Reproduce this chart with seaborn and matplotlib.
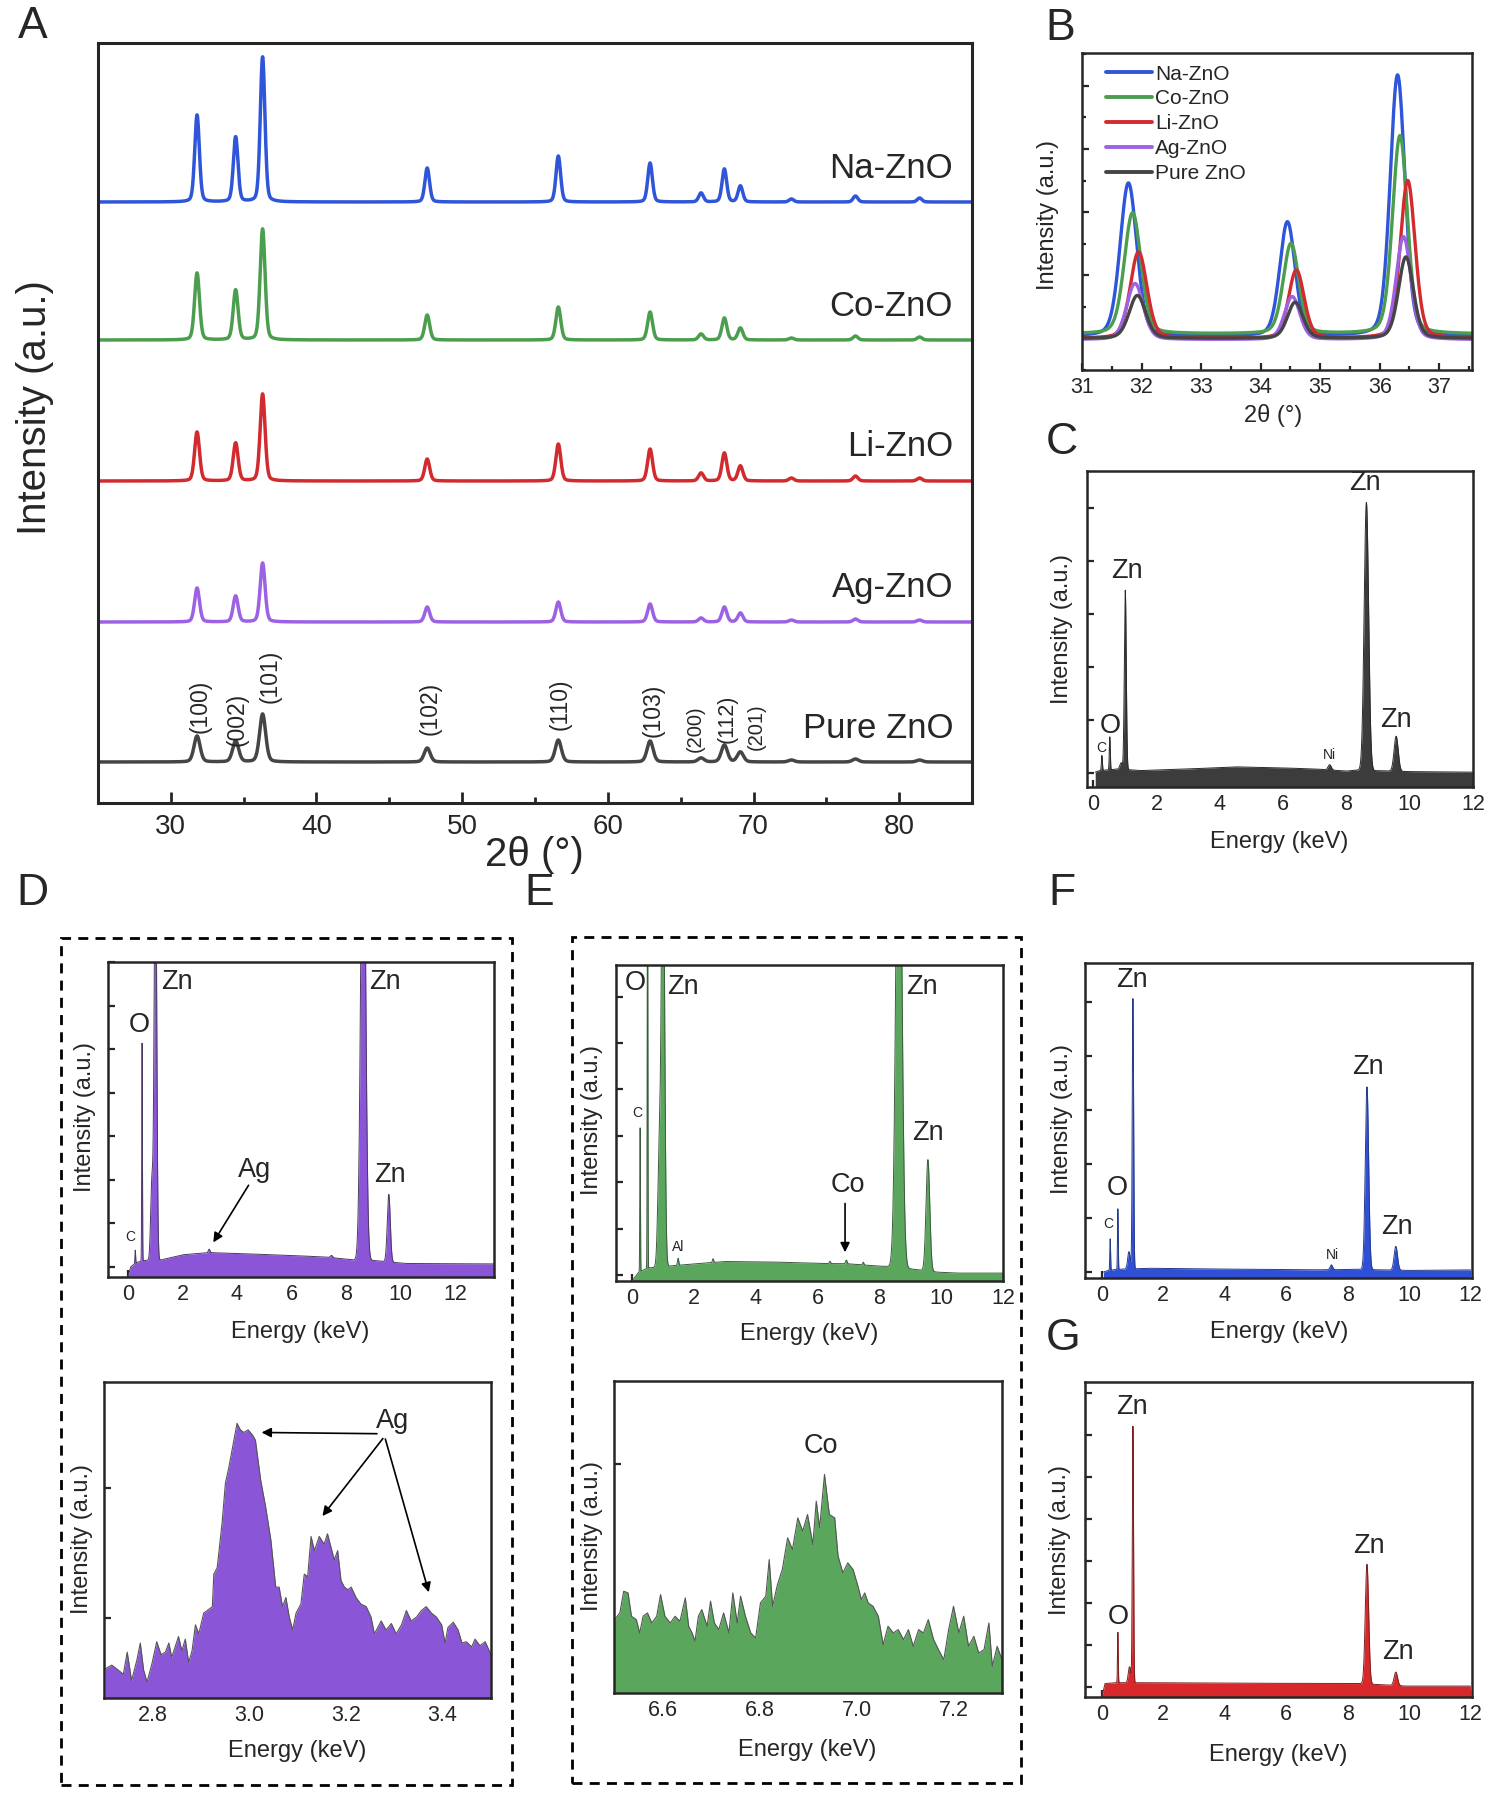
import numpy as np
import matplotlib
matplotlib.use("Agg")
import matplotlib.pyplot as plt
import seaborn as sns
from matplotlib.patches import Rectangle
from matplotlib.ticker import MultipleLocator, NullFormatter

sns.set_style("ticks")
plt.rcParams["font.family"] = ["Liberation Sans", "DejaVu Sans"]

W, H = 1502, 1800

# ---------------- A: XRD patterns (offset stack) ----------------
samples = ["Na-ZnO", "Co-ZnO", "Li-ZnO", "Ag-ZnO", "Pure ZnO"]
xrd_colors = ["#2f55d9", "#4c9e4f", "#d22b2f", "#9d62e4", "#454545"]
xrd_pos = [31.8, 34.45, 36.3, 47.6, 56.6, 62.9, 66.4, 68.0, 69.1, 72.6, 77.0, 81.4]
xrd_offsets = [6.01, 4.63, 3.22, 1.81, 0.41]
xrd_na = [0.87, 0.65, 1.45, 0.34, 0.46, 0.39, 0.09, 0.33, 0.16, 0.03, 0.06, 0.04]
xrd_co = [0.67, 0.50, 1.11, 0.25, 0.33, 0.28, 0.06, 0.22, 0.12, 0.02, 0.04, 0.03]
xrd_li = [0.49, 0.38, 0.87, 0.22, 0.37, 0.32, 0.08, 0.28, 0.15, 0.03, 0.05, 0.03]
xrd_ag = [0.34, 0.26, 0.59, 0.15, 0.20, 0.18, 0.04, 0.15, 0.09, 0.02, 0.03, 0.02]
xrd_pure = [0.26, 0.21, 0.48, 0.14, 0.22, 0.21, 0.04, 0.17, 0.10, 0.02, 0.03, 0.02]
xrd_sigma = [0.16, 0.17, 0.17, 0.17, 0.21]
hkl_labels = ["(100)", "(002)", "(101)", "(102)", "(110)", "(103)", "(200)", "(112)", "(201)"]
hkl_x = [32.0, 34.55, 36.8, 47.8, 56.7, 63.1, 66.0, 68.2, 70.2]
hkl_y = [0.70, 0.57, 1.00, 0.68, 0.73, 0.66, 0.51, 0.60, 0.53]
hkl_size = [16.5, 16.5, 16.5, 16.5, 16.5, 16.5, 14.5, 15.5, 14.5]

# ---------------- B: zoom on first three reflections ----------------
b_pos_na = [31.78, 34.45, 36.30]
b_pos_co = [31.85, 34.51, 36.34]
b_pos_li = [31.95, 34.60, 36.47]
b_pos_ag = [31.89, 34.53, 36.40]
b_pos_pure = [31.93, 34.58, 36.44]
b_h_na = [2.43, 1.81, 4.14]
b_h_co = [1.92, 1.43, 3.14]
b_h_li = [1.37, 1.08, 2.50]
b_h_ag = [0.89, 0.68, 1.63]
b_h_pure = [0.68, 0.57, 1.29]
b_sigma = [0.14, 0.13, 0.125]
b_base = [0.03, 0.07, 0.0, -0.02, 0.0]

# ---------------- EDS spectra (peaks + background) ----------------
# C: pure ZnO
c_bg_e = [0.06, 0.2, 0.8, 1.5, 3.0, 4.5, 6.0, 7.0, 8.0, 8.3, 10.0, 12.0]
c_bg_i = [0.02, 0.05, 0.08, 0.05, 0.08, 0.12, 0.10, 0.08, 0.04, 0.06, 0.03, 0.02]
c_pk_e = [0.27, 0.52, 0.88, 1.01, 7.47, 8.63, 9.57]
c_pk_h = [0.28, 0.62, 0.12, 3.38, 0.10, 5.05, 0.66]
c_pk_s = [0.015, 0.015, 0.04, 0.03, 0.05, 0.07, 0.065]
# D: Ag-ZnO survey
d_bg_e = [0.0, 0.1, 0.3, 0.6, 1.2, 2.0, 3.0, 4.0, 5.3, 6.5, 7.4, 8.3, 9.0, 10.2, 13.5]
d_bg_i = [-0.23, 0.0, 0.1, 0.15, 0.16, 0.28, 0.33, 0.31, 0.28, 0.25, 0.22, 0.16, 0.15, 0.08, 0.07]
d_pk_e = [0.27, 0.52, 0.88, 1.01, 2.98, 7.47, 8.63, 9.57]
d_pk_h = [0.30, 5.0, 1.8, 10.0, 0.08, 0.05, 12.0, 1.55]
d_pk_s = [0.012, 0.012, 0.045, 0.045, 0.03, 0.04, 0.085, 0.055]
# D: Ag L lines, read point by point
ag_e = [2.702, 2.716, 2.730, 2.740, 2.748, 2.757, 2.768, 2.775, 2.782, 2.789,
        2.799, 2.809, 2.818, 2.827, 2.834, 2.840, 2.847, 2.854, 2.861, 2.868,
        2.875, 2.882, 2.889, 2.896, 2.906, 2.917, 2.924, 2.927, 2.934, 2.944,
        2.951, 2.958, 2.967, 2.975, 2.982, 2.989, 2.998, 3.007, 3.013, 3.024,
        3.034, 3.045, 3.055, 3.062, 3.069, 3.076, 3.083, 3.090, 3.097, 3.107,
        3.114, 3.121, 3.128, 3.135, 3.145, 3.155, 3.162, 3.169, 3.176, 3.183,
        3.190, 3.197, 3.204, 3.211, 3.221, 3.231, 3.242, 3.252, 3.259, 3.266,
        3.273, 3.283, 3.294, 3.304, 3.315, 3.325, 3.335, 3.346, 3.356, 3.366,
        3.377, 3.387, 3.398, 3.405, 3.411, 3.422, 3.432, 3.440, 3.449, 3.460,
        3.467, 3.477, 3.488, 3.500]
ag_i = [0.61, 0.64, 0.60, 0.57, 0.74, 0.52, 0.68, 0.81, 0.60, 0.51,
        0.65, 0.82, 0.72, 0.74, 0.81, 0.70, 0.78, 0.86, 0.75, 0.84,
        0.66, 0.75, 0.95, 0.88, 1.04, 1.07, 1.09, 1.34, 1.39, 1.73,
        2.04, 2.16, 2.34, 2.50, 2.45, 2.43, 2.45, 2.41, 2.37, 2.06,
        1.86, 1.60, 1.24, 1.24, 1.09, 1.16, 1.01, 0.91, 1.04, 1.11,
        1.34, 1.32, 1.63, 1.52, 1.63, 1.57, 1.65, 1.55, 1.45, 1.52,
        1.29, 1.24, 1.22, 1.24, 1.16, 1.11, 1.09, 1.01, 0.88, 0.93,
        0.98, 0.91, 0.96, 0.88, 0.95, 1.06, 0.98, 1.01, 1.06, 1.09,
        1.04, 1.01, 0.95, 0.81, 0.93, 0.97, 0.91, 0.81, 0.82, 0.78,
        0.84, 0.79, 0.82, 0.72]
# E: Co-ZnO survey
e_bg_e = [0.0, 0.2, 0.5, 1.5, 3.0, 4.5, 6.0, 7.0, 8.0, 8.4, 9.9, 10.5, 12.0]
e_bg_i = [-0.13, 0.05, 0.15, 0.21, 0.29, 0.28, 0.25, 0.24, 0.19, 0.18, 0.06, 0.04, 0.04]
e_pk_e = [0.26, 0.50, 0.88, 1.00, 1.49, 2.62, 6.40, 6.93, 7.48, 8.63, 9.57]
e_pk_h = [3.1, 10.0, 2.3, 10.0, 0.15, 0.08, 0.05, 0.08, 0.06, 12.0, 2.4]
e_pk_s = [0.010, 0.010, 0.05, 0.05, 0.02, 0.02, 0.02, 0.025, 0.02, 0.09, 0.06]
# E: Co K line, read point by point
co_e = [6.501, 6.512, 6.520, 6.529, 6.536, 6.546, 6.553, 6.560, 6.569, 6.578,
        6.588, 6.596, 6.605, 6.616, 6.626, 6.636, 6.647, 6.654, 6.661, 6.667,
        6.674, 6.681, 6.692, 6.699, 6.707, 6.716, 6.726, 6.737, 6.745, 6.754,
        6.761, 6.771, 6.782, 6.792, 6.802, 6.813, 6.820, 6.827, 6.837, 6.847,
        6.858, 6.868, 6.879, 6.889, 6.899, 6.910, 6.917, 6.924, 6.934, 6.944,
        6.955, 6.962, 6.972, 6.982, 6.993, 7.003, 7.010, 7.017, 7.024, 7.034,
        7.045, 7.055, 7.065, 7.076, 7.086, 7.097, 7.107, 7.117, 7.128, 7.138,
        7.148, 7.159, 7.169, 7.180, 7.190, 7.200, 7.211, 7.221, 7.231, 7.242,
        7.252, 7.263, 7.273, 7.280, 7.290, 7.300]
co_i = [1.07, 1.11, 1.24, 1.23, 1.09, 1.07, 0.99, 1.09, 1.11, 1.05,
        1.09, 1.22, 1.09, 1.05, 1.09, 1.06, 1.20, 1.03, 0.99, 0.94,
        1.09, 1.13, 1.03, 1.18, 1.05, 1.01, 1.11, 0.99, 1.23, 1.05,
        1.21, 1.09, 0.99, 0.96, 1.17, 1.21, 1.43, 1.15, 1.28, 1.37,
        1.56, 1.49, 1.68, 1.60, 1.70, 1.52, 1.78, 1.62, 1.94, 1.70,
        1.68, 1.45, 1.35, 1.41, 1.37, 1.27, 1.19, 1.23, 1.17, 1.15,
        1.09, 0.92, 1.03, 0.99, 1.01, 0.95, 1.01, 0.91, 1.01, 0.99,
        1.07, 0.95, 0.89, 0.83, 1.01, 1.15, 0.99, 1.09, 0.91, 0.97,
        0.87, 0.89, 1.05, 0.79, 0.91, 0.83]
# F: Na-ZnO
f_bg_e = [0.05, 0.2, 0.5, 1.5, 3.0, 5.0, 7.0, 8.3, 10.0, 12.0]
f_bg_i = [0.0, 0.03, 0.05, 0.07, 0.06, 0.05, 0.04, 0.05, 0.03, 0.04]
f_pk_e = [0.27, 0.52, 0.88, 1.01, 7.47, 8.63, 9.57]
f_pk_h = [0.58, 1.12, 0.32, 5.0, 0.09, 3.38, 0.44]
f_pk_s = [0.012, 0.012, 0.04, 0.022, 0.04, 0.055, 0.055]
# G: Li-ZnO
g_bg_e = [0.0, 0.1, 0.5, 1.5, 4.0, 8.0, 8.4, 9.9, 12.0]
g_bg_i = [-0.24, 0.08, 0.10, 0.10, 0.09, 0.08, 0.08, 0.02, 0.02]
g_pk_e = [0.52, 0.90, 1.01, 8.63, 9.57]
g_pk_h = [1.2, 0.38, 6.1, 2.85, 0.32]
g_pk_s = [0.012, 0.04, 0.02, 0.055, 0.055]


def xrd_curve(x, pos, heights, sigma, base=0.0):
    y = np.full_like(x, base)
    for c, h in zip(pos, heights):
        g = np.exp(-0.5 * ((x - c) / sigma) ** 2)
        lor = 1.0 / (1.0 + ((x - c) / (1.1774 * sigma)) ** 2)
        y += h * (0.75 * g + 0.25 * lor)
    return y


def eds_curve(x, bg_e, bg_i, pk_e, pk_h, pk_s):
    y = np.interp(x, bg_e, bg_i)
    for c, h, s in zip(pk_e, pk_h, pk_s):
        y += h * np.exp(-0.5 * ((x - c) / s) ** 2)
    return y


fig = plt.figure(figsize=(W / 100, H / 100), dpi=100)


def add_ax(l, t, r, b):
    return fig.add_axes([l / W, 1 - b / H, (r - l) / W, (b - t) / H])


def style_small(ax, xmaj, xmin=None, ymaj=1.0, ymin=None):
    for s in ax.spines.values():
        s.set_linewidth(1.8)
        s.set_visible(True)
    ax.xaxis.set_major_locator(MultipleLocator(xmaj))
    if xmin:
        ax.xaxis.set_minor_locator(MultipleLocator(xmin))
    ax.yaxis.set_major_locator(MultipleLocator(ymaj))
    if ymin:
        ax.yaxis.set_minor_locator(MultipleLocator(ymin))
    ax.yaxis.set_major_formatter(NullFormatter())
    ax.tick_params(which="both", direction="in", top=False, right=False, width=1.6)
    ax.tick_params(which="major", length=5, labelsize=15.5, pad=5)
    ax.tick_params(which="minor", length=3)


def set_labels(ax, xl, yl, xpos, ypos, size=17):
    ax.set_xlabel(xl, fontsize=size)
    ax.set_ylabel(yl, fontsize=size)
    ax.xaxis.set_label_coords(*xpos)
    ax.yaxis.set_label_coords(*ypos)
    ax.xaxis.label.set_va("center")
    ax.yaxis.label.set_va("center")


def eds_panel(ax, bg_e, bg_i, pk_e, pk_h, pk_s, color, edge, ylim, xlim):
    x = np.arange(bg_e[0], bg_e[-1], 0.002)
    y = eds_curve(x, bg_e, bg_i, pk_e, pk_h, pk_s)
    ax.fill_between(x, ylim[0] - 1, y, color=color, lw=0)
    sns.lineplot(x=x, y=y, ax=ax, color=edge, lw=0.7, estimator=None)
    ax.set_xlim(*xlim)
    ax.set_ylim(*ylim)


# ---------- Panel A ----------
axA = add_ax(98, 43, 972, 803)
xa = np.arange(25, 85.01, 0.02)
xrd_sets = [xrd_na, xrd_co, xrd_li, xrd_ag, xrd_pure]
for name, col, off, hs, sg in zip(samples, xrd_colors, xrd_offsets, xrd_sets, xrd_sigma):
    sns.lineplot(x=xa, y=xrd_curve(xa, xrd_pos, hs, sg, off), ax=axA, color=col, lw=2.5,
                 estimator=None)
    axA.text(83.7, off + 0.34, name, fontsize=25, ha="right", va="center")
for lab, hx, hy, fs in zip(hkl_labels, hkl_x, hkl_y, hkl_size):
    axA.text(hx, hy, lab, rotation=90, fontsize=fs, ha="center", va="bottom")
axA.set_xlim(25, 85)
axA.set_ylim(0, 7.6)
for s in axA.spines.values():
    s.set_linewidth(2.2)
axA.xaxis.set_major_locator(MultipleLocator(10))
axA.xaxis.set_minor_locator(MultipleLocator(5))
axA.tick_params(which="both", direction="in", top=False, right=False, left=False,
                labelleft=False, width=2)
axA.tick_params(which="major", length=8, labelsize=20, pad=8)
axA.tick_params(which="minor", length=4)
set_labels(axA, "2θ (°)", "Intensity (a.u.)", (0.499, -0.068), (-0.072, 0.52), size=29)

# ---------- Panel B ----------
axB = add_ax(1082, 53, 1472, 370)
xb = np.arange(31.0, 37.6, 0.005)
b_pos_sets = [b_pos_na, b_pos_co, b_pos_li, b_pos_ag, b_pos_pure]
b_h_sets = [b_h_na, b_h_co, b_h_li, b_h_ag, b_h_pure]
for name, col, ps, hs, base in zip(samples, xrd_colors, b_pos_sets, b_h_sets, b_base):
    yb = np.full_like(xb, base)
    for c, h, sg in zip(ps, hs, b_sigma):
        yb += xrd_curve(xb, [c], [h], sg)
    sns.lineplot(x=xb, y=yb, ax=axB, color=col, lw=2.4, label=name, estimator=None)
axB.set_xlim(31, 37.55)
axB.set_ylim(-0.5, 4.52)
style_small(axB, 1, 0.5, 1, 0.5)
leg = axB.legend(loc="upper left", bbox_to_anchor=(0.04, 0.99), frameon=False, fontsize=15,
                 handlelength=2.2, handletextpad=0.15, labelspacing=0.28, borderaxespad=0)
for ln in leg.get_lines():
    ln.set_linewidth(2.8)
set_labels(axB, "2θ (°)", "Intensity (a.u.)", (0.49, -0.142), (-0.087, 0.49))

# ---------- Panel C ----------
axC = add_ax(1087, 471, 1473, 787)
eds_panel(axC, c_bg_e, c_bg_i, c_pk_e, c_pk_h, c_pk_s, "#3c3c3c", "#2a2a2a",
          (-0.26, 5.7), (-0.2, 12.0))
style_small(axC, 2)
set_labels(axC, "Energy (keV)", "Intensity (a.u.)", (0.497, -0.174), (-0.065, 0.5))
for t, x, y, fs in [("Zn", 8.58, 5.48, 19.5), ("Zn", 1.07, 3.81, 19.5), ("Zn", 9.56, 1.00, 19.5),
                    ("O", 0.54, 0.89, 19.5), ("C", 0.25, 0.47, 10), ("Ni", 7.45, 0.34, 10)]:
    axC.text(x, y, t, fontsize=fs, ha="center", va="center")

# ---------- Panel D (top) ----------
axD1 = add_ax(108, 962, 494, 1277)
eds_panel(axD1, d_bg_e, d_bg_i, d_pk_e, d_pk_h, d_pk_s, "#8b55d8", "#4a3a60",
          (-0.23, 7.0), (-0.73, 13.43))
style_small(axD1, 2)
set_labels(axD1, "Energy (keV)", "Intensity (a.u.)", (0.497, -0.175), (-0.06, 0.508))
for t, x, y, fs in [("Zn", 1.8, 6.53, 19.5), ("Zn", 9.43, 6.53, 19.5), ("O", 0.4, 5.56, 19.5),
                    ("Zn", 9.6, 2.11, 19.5), ("Ag", 4.66, 2.23, 19.5), ("C", 0.07, 0.69, 10)]:
    axD1.text(x, y, t, fontsize=fs, ha="center", va="center")
axD1.annotate("", xy=(3.08, 0.51), xytext=(4.48, 1.93),
              arrowprops=dict(arrowstyle="-|>", color="black", lw=1.2, mutation_scale=14))

# ---------- Panel D (bottom) ----------
axD2 = add_ax(104, 1382, 491, 1698)
axD2.fill_between(ag_e, 0, ag_i, color="#8b55d8", lw=0)
sns.lineplot(x=ag_e, y=ag_i, ax=axD2, color="#555555", lw=0.8, estimator=None)
axD2.set_xlim(2.7, 3.5)
axD2.set_ylim(0.387, 2.818)
style_small(axD2, 0.2)
axD2.xaxis.set_major_formatter(plt.FuncFormatter(lambda v, p: f"{v:.1f}"))
set_labels(axD2, "Energy (keV)", "Intensity (a.u.)", (0.499, -0.168), (-0.057, 0.503))
axD2.text(3.297, 2.52, "Ag", fontsize=19.5, ha="center", va="center")
for tip, start in [((3.02, 2.43), (3.27, 2.42)), ((3.148, 1.77), (3.28, 2.40)),
                   ((3.373, 1.18), (3.28, 2.40))]:
    axD2.annotate("", xy=tip, xytext=start,
                  arrowprops=dict(arrowstyle="-|>", color="black", lw=1.2, mutation_scale=14))

# ---------- Panel E (top) ----------
axE1 = add_ax(616, 965, 1003, 1281)
eds_panel(axE1, e_bg_e, e_bg_i, e_pk_e, e_pk_h, e_pk_s, "#5aa65c", "#3d5a3d",
          (-0.13, 6.68), (-0.52, 12.0))
style_small(axE1, 2)
set_labels(axE1, "Energy (keV)", "Intensity (a.u.)", (0.50, -0.168), (-0.062, 0.51))
for t, x, y, fs in [("O", 0.1, 6.29, 19.5), ("Zn", 1.65, 6.21, 19.5), ("Zn", 9.39, 6.21, 19.5),
                    ("C", 0.16, 3.49, 10), ("Zn", 9.58, 3.06, 19.5), ("Co", 6.99, 1.94, 19.5),
                    ("Al", 1.49, 0.6, 10)]:
    axE1.text(x, y, t, fontsize=fs, ha="center", va="center")
axE1.annotate("", xy=(6.89, 0.43), xytext=(6.89, 1.6),
              arrowprops=dict(arrowstyle="-|>", color="black", lw=1.2, mutation_scale=14))

# ---------- Panel E (bottom) ----------
axE2 = add_ax(614, 1381, 1002, 1693)
axE2.fill_between(co_e, 0, co_i, color="#5aa65c", lw=0)
sns.lineplot(x=co_e, y=co_i, ax=axE2, color="#555555", lw=0.8, estimator=None)
axE2.set_xlim(6.5, 7.3)
axE2.set_ylim(0.63, 2.50)
style_small(axE2, 0.2)
axE2.xaxis.set_major_formatter(plt.FuncFormatter(lambda v, p: f"{v:.1f}"))
set_labels(axE2, "Energy (keV)", "Intensity (a.u.)", (0.497, -0.183), (-0.057, 0.503))
axE2.text(6.927, 2.11, "Co", fontsize=19.5, ha="center", va="center")

# ---------- Panel F ----------
axF = add_ax(1085, 963, 1472, 1278)
eds_panel(axF, f_bg_e, f_bg_i, f_pk_e, f_pk_h, f_pk_s, "#2f50d6", "#263a8a",
          (-0.11, 5.72), (-0.55, 12.05))
style_small(axF, 2)
set_labels(axF, "Energy (keV)", "Intensity (a.u.)", (0.501, -0.171), (-0.059, 0.505))
for t, x, y, fs in [("Zn", 0.98, 5.41, 19.5), ("Zn", 8.66, 3.80, 19.5), ("Zn", 9.6, 0.83, 19.5),
                    ("O", 0.49, 1.56, 19.5), ("C", 0.2, 0.89, 10), ("Ni", 7.52, 0.31, 10)]:
    axF.text(x, y, t, fontsize=fs, ha="center", va="center")

# ---------- Panel G ----------
axG = add_ax(1085, 1382, 1472, 1697)
eds_panel(axG, g_bg_e, g_bg_i, g_pk_e, g_pk_h, g_pk_s, "#d8282b", "#7a2020",
          (-0.24, 7.26), (-0.55, 12.05))
style_small(axG, 2)
set_labels(axG, "Energy (keV)", "Intensity (a.u.)", (0.499, -0.184), (-0.065, 0.498))
for t, x, y, fs in [("Zn", 0.99, 6.67, 19.5), ("Zn", 8.69, 3.36, 19.5), ("Zn", 9.64, 0.83, 19.5),
                    ("O", 0.52, 1.67, 19.5)]:
    axG.text(x, y, t, fontsize=fs, ha="center", va="center")

# ---------- dashed frames and panel letters ----------
for x0, y0, x1, y1 in [(61, 938, 512, 1785), (572, 937, 1021, 1783)]:
    fig.add_artist(Rectangle((x0 / W, 1 - y1 / H), (x1 - x0) / W, (y1 - y0) / H,
                             transform=fig.transFigure, fill=False, ec="black", lw=2,
                             ls=(0, (3.6, 2.6))))
for letter, x, y in [("A", 33, 27), ("B", 1060, 28), ("C", 1062, 442), ("D", 32, 893),
                     ("E", 539, 893), ("F", 1062, 893), ("G", 1063, 1338)]:
    fig.text(x / W, 1 - y / H, letter, fontsize=32, ha="center", va="center")

fig.savefig("out.png", dpi=100)
